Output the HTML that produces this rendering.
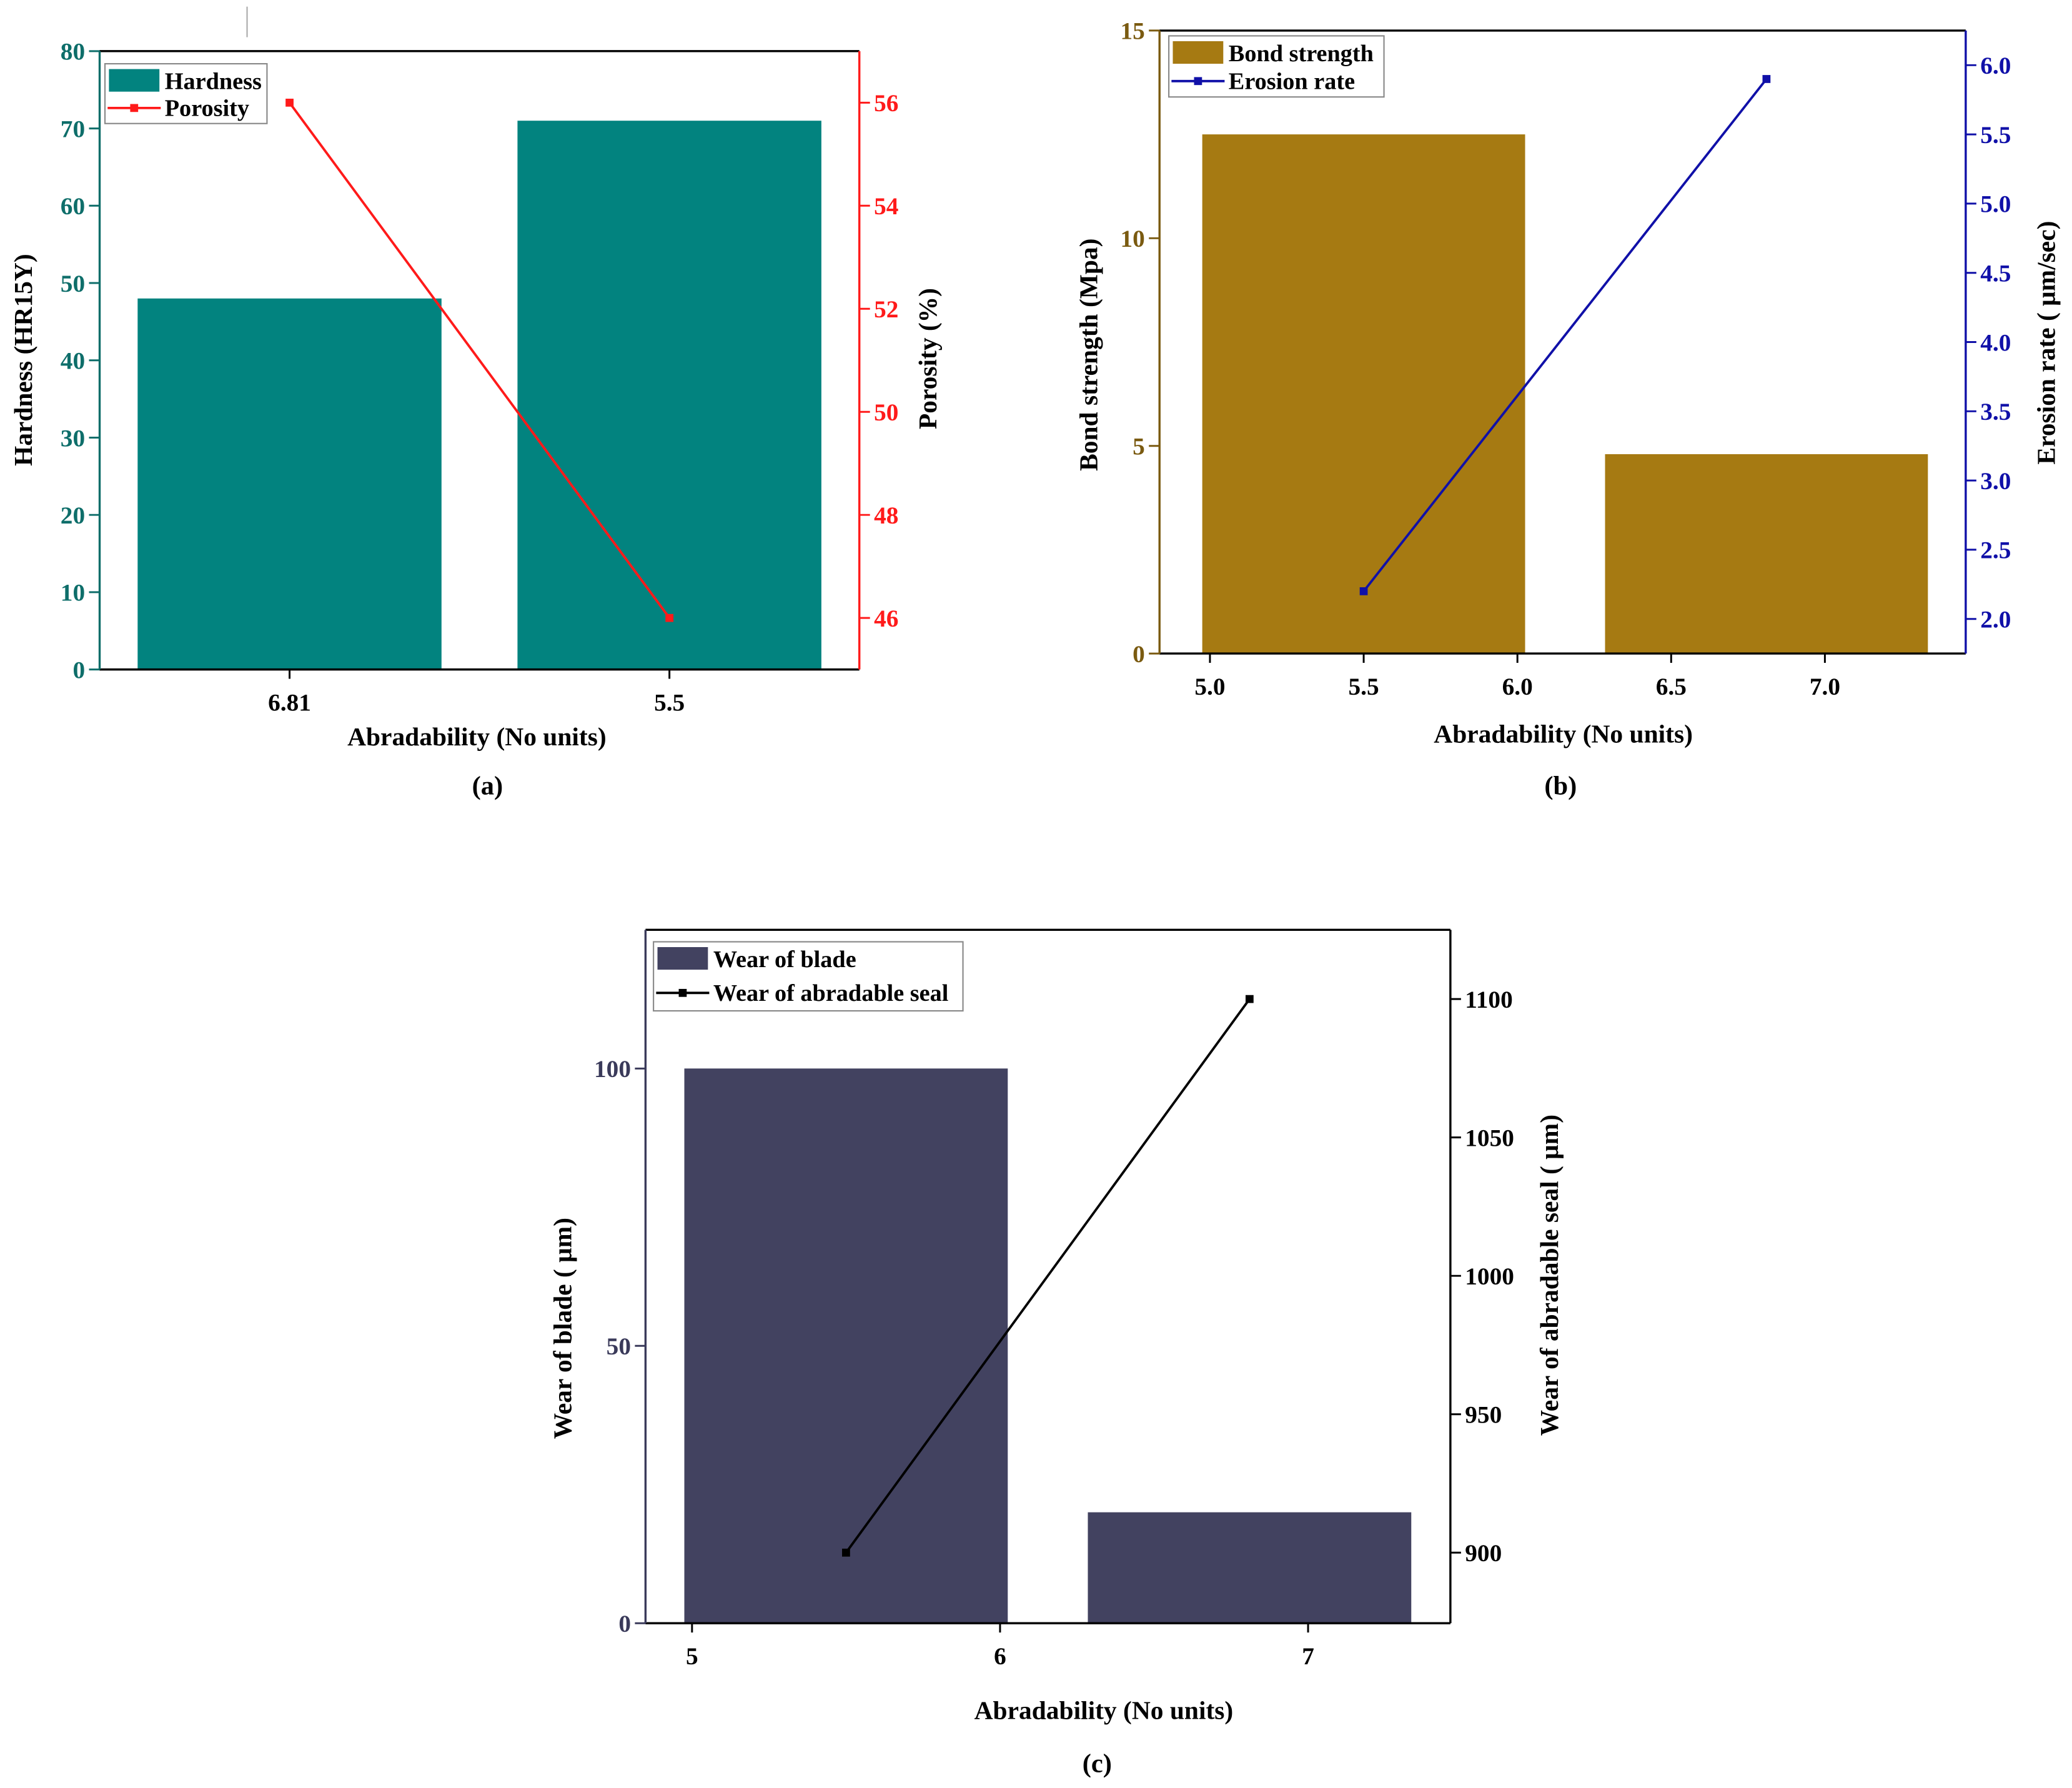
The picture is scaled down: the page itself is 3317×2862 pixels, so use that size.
<!DOCTYPE html>
<html><head><meta charset="utf-8"><style>
html,body{margin:0;padding:0;background:#fff;}
svg{display:block;}
text{font-family:"Liberation Serif",serif;font-weight:bold;}
</style></head><body>
<svg id="fig" xmlns="http://www.w3.org/2000/svg" width="3317" height="2862" viewBox="0 0 1560 1346.05">
<rect x="0" y="0" width="1560" height="1346.05" fill="#fff"/>
<line x1="186" y1="5" x2="186" y2="28" stroke="#aaa" stroke-width="1"/>
</svg>
<script>
// Panel (a)
const aCategories = ["6.81", "5.5"];
const aHardness = [48, 71];
const aPorosity = [56, 46];
const aLeftTicks = [0, 10, 20, 30, 40, 50, 60, 70, 80];
const aRightTicks = [46, 48, 50, 52, 54, 56];
// Panel (b)
const bX = [5.5, 6.81];
const bBond = [12.5, 4.8];
const bErosion = [2.2, 5.9];
const bXTicks = [5.0, 5.5, 6.0, 6.5, 7.0];
const bLeftTicks = [0, 5, 10, 15];
const bRightTicks = [2.0, 2.5, 3.0, 3.5, 4.0, 4.5, 5.0, 5.5, 6.0];
// Panel (c)
const cX = [5.5, 6.81];
const cBlade = [100, 20];
const cSeal = [900, 1100];
const cXTicks = [5, 6, 7];
const cLeftTicks = [0, 50, 100];
const cRightTicks = [900, 950, 1000, 1050, 1100];

const svg = document.getElementById('fig');
const NS = 'http://www.w3.org/2000/svg';
const TICK = 18.5, TITLE = 19.5, LEG = 18, CAP = 20;
function mk(tag, attrs, parent) {
  const e = document.createElementNS(NS, tag);
  for (const k in attrs) e.setAttribute(k, attrs[k]);
  (parent || svg).appendChild(e);
  return e;
}
function txt(s, x, y, size, fill, anchor, parent, rot) {
  const t = mk('text', {x: x, y: y, 'font-size': size, fill: fill, 'text-anchor': anchor || 'middle'}, parent);
  if (rot) t.setAttribute('transform', 'rotate(' + rot + ' ' + x + ' ' + y + ')');
  t.textContent = s;
  return t;
}
function lin(d0, d1, r0, r1) { return v => r0 + (v - d0) * (r1 - r0) / (d1 - d0); }

function panel(p) {
  const g = mk('g', {});
  
  
  const X = lin(p.xd[0], p.xd[1], p.L, p.R);
  const YL = lin(p.yl[0], p.yl[1], p.B, p.T);
  const YR = lin(p.yr[0], p.yr[1], p.B, p.T);
  p.xs.forEach((xv, i) => {
    const x0 = X(xv - p.bw / 2), x1 = X(xv + p.bw / 2);
    const b = mk('rect', {x: x0, y: YL(p.bars[i]), width: x1 - x0, height: p.B - YL(p.bars[i]), fill: p.barColor}, g);
    
    
  });
  const pts = p.xs.map((xv, i) => X(xv) + ',' + YR(p.line[i])).join(' ');
  const pl = mk('polyline', {points: pts, fill: 'none', stroke: p.lineColor, 'stroke-width': 1.8}, g);
  
  
  p.xs.forEach((xv, i) => {
    const m = mk('rect', {x: X(xv) - 3, y: YR(p.line[i]) - 3, width: 6, height: 6, fill: p.lineColor}, g);
    
    
  });
  mk('line', {x1: p.L, y1: p.T, x2: p.R, y2: p.T, stroke: '#000', 'stroke-width': 1.6}, g);
  mk('line', {x1: p.L, y1: p.B, x2: p.R, y2: p.B, stroke: '#000', 'stroke-width': 1.6}, g);
  mk('line', {x1: p.L, y1: p.T, x2: p.L, y2: p.B, stroke: p.leftColor, 'stroke-width': 1.6}, g);
  mk('line', {x1: p.R, y1: p.T, x2: p.R, y2: p.B, stroke: p.rightColor, 'stroke-width': 1.6}, g);
  p.xTicks.forEach((v, i) => {
    const x = X(v);
    mk('line', {x1: x, y1: p.B, x2: x, y2: p.B + 7, stroke: '#000', 'stroke-width': 1.4}, g);
    const t = txt(p.xLabels[i], x, p.B + 31, TICK, '#000', 'middle', g);
    
    
  });
  p.yTicksL.forEach(v => {
    const y = YL(v);
    mk('line', {x1: p.L - 8, y1: y, x2: p.L, y2: y, stroke: p.leftColor, 'stroke-width': 1.4}, g);
    const t = txt(String(v), p.L - 11, y + 6.5, TICK, p.leftColor, 'end', g);
    
    
  });
  p.yTicksR.forEach(v => {
    const y = YR(v);
    mk('line', {x1: p.R, y1: y, x2: p.R + 8, y2: y, stroke: p.rightColor, 'stroke-width': 1.4}, g);
    const t = txt(p.rFmt(v), p.R + 11, y + 6.5, TICK, p.rightColor, 'start', g);
    
    
  });
  let t = txt('Abradability (No units)', p.xt[0], p.xt[1], TITLE, '#000', 'middle', g);
   
  t = txt(p.ylTitle, p.ylt[0], p.ylt[1], TITLE, '#000', 'middle', g, -90);
   
  t = txt(p.yrTitle, p.yrt[0], p.yrt[1], TITLE, '#000', 'middle', g, -90);
   
  t = txt(p.cap, p.capPos[0], p.capPos[1], CAP, '#000', 'middle', g);
   
  const lg = p.leg;
  const lgG = mk('g', {}, g);
  
  
  mk('rect', {x: lg[0], y: lg[1], width: lg[2], height: lg[3], fill: '#fff', stroke: '#888', 'stroke-width': 1}, lgG);
  mk('rect', {x: lg[0] + 3, y: lg[1] + 4, width: 38, height: 17, fill: p.barColor}, lgG);
  const ly = lg[1] + lg[3] * 0.74;
  mk('line', {x1: lg[0] + 2, y1: ly, x2: lg[0] + 42, y2: ly, stroke: p.lineColor, 'stroke-width': 1.8}, lgG);
  mk('rect', {x: lg[0] + 19, y: ly - 3, width: 6, height: 6, fill: p.lineColor}, lgG);
  txt(p.names[0], lg[0] + 45, lg[1] + 19, LEG, '#000', 'start', lgG);
  txt(p.names[1], lg[0] + 45, ly + 6, LEG, '#000', 'start', lgG);
}

panel({name: 'panel-a-chart', L: 75, R: 647, T: 38.5, B: 504,
  xd: [-0.5, 1.5], yl: [0, 80], yr: [45, 57], bw: 0.8,
  xs: aCategories.map((c, i) => i), bars: aHardness, line: aPorosity,
  xTicks: aCategories.map((c, i) => i), xLabels: aCategories,
  yTicksL: aLeftTicks, yTicksR: aRightTicks, rFmt: v => String(v),
  barColor: '#02837F', lineColor: '#ff1a1a', leftColor: '#0E6E6A', rightColor: '#ff1a1a',
  xt: [359, 561], ylt: [24, 271], yrt: [705, 270], ylTitle: 'Hardness (HR15Y)', yrTitle: 'Porosity (%)',
  cap: '(a)', capPos: [367, 598], leg: [79, 48, 122, 45], names: ['Hardness', 'Porosity']});

panel({name: 'panel-b-chart', L: 873, R: 1480, T: 23, B: 492,
  xd: [4.836, 7.458], yl: [0, 15], yr: [1.75, 6.25], bw: 1.05,
  xs: bX, bars: bBond, line: bErosion,
  xTicks: bXTicks, xLabels: bXTicks.map(v => v.toFixed(1)),
  yTicksL: bLeftTicks, yTicksR: bRightTicks, rFmt: v => v.toFixed(1),
  barColor: '#A67A12', lineColor: '#1010A8', leftColor: '#7A5A10', rightColor: '#1010A8',
  xt: [1177, 559], ylt: [826, 267], yrt: [1547, 258], ylTitle: 'Bond strength (Mpa)', yrTitle: 'Erosion rate ( μm/sec)',
  cap: '(b)', capPos: [1175, 598], leg: [880, 27, 162, 46], names: ['Bond strength', 'Erosion rate']});

panel({name: 'panel-c-chart', L: 486, R: 1092, T: 700, B: 1222,
  xd: [4.849, 7.462], yl: [0, 125], yr: [874.5, 1125], bw: 1.05,
  xs: cX, bars: cBlade, line: cSeal,
  xTicks: cXTicks, xLabels: cXTicks.map(v => String(v)),
  yTicksL: cLeftTicks, yTicksR: cRightTicks, rFmt: v => String(v),
  barColor: '#424260', lineColor: '#000', leftColor: '#3A3A5A', rightColor: '#000',
  xt: [831, 1294], ylt: [430, 1000], yrt: [1173, 960], ylTitle: 'Wear of blade ( μm)', yrTitle: 'Wear of abradable seal ( μm)',
  cap: '(c)', capPos: [826, 1334], leg: [492, 709, 233, 52], names: ['Wear of blade', 'Wear of abradable seal']});
</script>
</body></html>
